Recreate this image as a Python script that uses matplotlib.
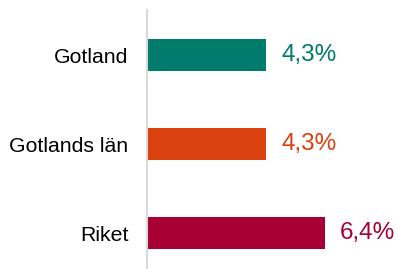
import matplotlib.pyplot as plt

# data
categories = ["Gotland", "Gotlands län", "Riket"]
values = [4.3, 4.3, 6.4]
colors = ["#007B6C", "#D9410F", "#A60035"]

plt.rcParams['font.family'] = ['Liberation Sans', 'DejaVu Sans']

W, H = 397, 269
fig = plt.figure(figsize=(W / 100, H / 100), dpi=100)
# axes placed in pixel terms: left edge at axis line, top at 10 px
left, top = 146.5, 10
ax = fig.add_axes([left / W, 0, (W - left) / W, (H - top) / H])

ypos = list(range(len(categories)))
ax.barh(ypos, values, height=0.36, color=colors)

for y, v, c in zip(ypos, values, colors):
    ax.text(v + 0.54, y, ("%.1f%%" % v).replace(".", ","), color=c,
            fontsize=17.5, va="center", ha="left")

ax.set_xlim(0, 9)
ax.set_ylim(2.404, -0.506)
ax.set_yticks(ypos)
ax.set_yticklabels(categories, fontsize=15.3)
ax.tick_params(axis="y", length=0, pad=13)
ax.set_xticks([])

for s in ["top", "right", "bottom"]:
    ax.spines[s].set_visible(False)
ax.spines["left"].set_color("#D9D9D9")
ax.spines["left"].set_linewidth(1.5)

fig.savefig("out.png", dpi=100)
